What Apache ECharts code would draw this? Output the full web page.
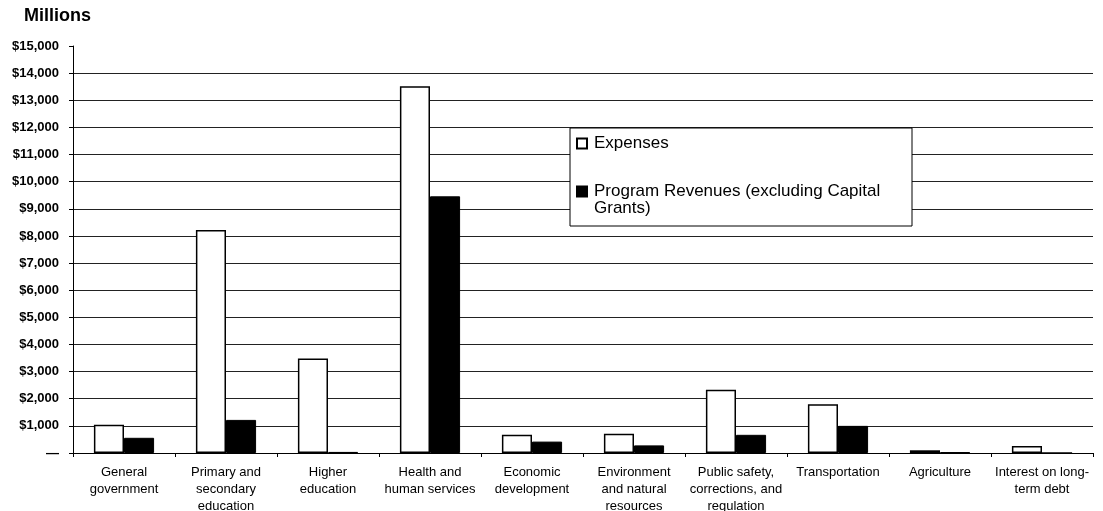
<!DOCTYPE html>
<html>
<head>
<meta charset="utf-8">
<script src="https://cdn.jsdelivr.net/npm/echarts@6/dist/echarts.min.js"></script>
<style>html,body{margin:0;padding:0;background:#fff}#c{width:1103px;height:511px}</style>
</head>
<body>
<div id="c"></div>
<script>
const categories = ["General\ngovernment","Primary and\nsecondary\neducation","Higher\neducation","Health and\nhuman services","Economic\ndevelopment","Environment\nand natural\nresources","Public safety,\ncorrections, and\nregulation","Transportation","Agriculture","Interest on long-\nterm debt"];
const expenses = [1040, 8220, 3480, 13520, 670, 710, 2330, 1800, 100, 260];
const programRevenues = [560, 1220, 40, 9460, 420, 280, 670, 1000, 30, 0];
const yTicks = {min: 0, max: 15000, interval: 1000};
const seriesNames = ['Expenses', 'Program Revenues (excluding Capital\nGrants)'];

const chart = echarts.init(document.getElementById('c'), null, {renderer: 'canvas'});
chart.setOption({
  animation: false,
  backgroundColor: '#fff',
  textStyle: {fontFamily: 'Arial, "Liberation Sans", sans-serif', color: '#000'},
  grid: {left: 73, right: 10, top: 46, bottom: 58, containLabel: false, outerBoundsMode: 'none'},
  graphic: [
    {type: 'text', left: 24, top: 7, style: {text: 'Millions', font: 'bold 18px Arial, "Liberation Sans", sans-serif', fill: '#000'}},
    {type: 'rect', shape: {x: 570, y: 128, width: 342, height: 98}, style: {fill: '#fff', stroke: '#000', lineWidth: 1}, z: 3}
  ],
  legend: {
    orient: 'vertical', left: 571, top: 130, z: 10, padding: 5,
    itemWidth: 10, itemHeight: 10, itemGap: 14,
    icon: 'rect',
    formatter: name => name === seriesNames[1] ? '\n' + name : name,
    textStyle: {fontSize: 17, color: '#000', lineHeight: 17, padding: [0, 0, 0, 2]},
    data: seriesNames
  },
  xAxis: {
    type: 'category', data: categories,
    axisLine: {lineStyle: {color: '#000', width: 1}},
    axisTick: {show: true, interval: 0, length: 4, lineStyle: {color: '#000'}},
    axisLabel: {interval: 0, fontSize: 13, lineHeight: 17, color: '#000', margin: 11}
  },
  yAxis: {
    type: 'value', min: yTicks.min, max: yTicks.max, interval: yTicks.interval,
    axisLine: {show: true, lineStyle: {color: '#000', width: 1}},
    axisTick: {show: true, length: 4, lineStyle: {color: '#000'}},
    splitLine: {show: true, showMaxLine: false, lineStyle: {color: '#222', width: 1}},
    axisLabel: {
      fontSize: 13, fontWeight: 'bold', color: '#000', margin: 14,
      formatter: v => v === 0 ? '—' : '$' + v.toLocaleString('en-US')
    }
  },
  series: [
    {name: seriesNames[0], type: 'bar', data: expenses, barGap: '0%', barCategoryGap: '41%',
     itemStyle: {color: '#fff', borderColor: '#000', borderWidth: 1.5}},
    {name: seriesNames[1], type: 'bar', data: programRevenues,
     itemStyle: {color: '#000', borderColor: '#000', borderWidth: 1}}
  ]
});
</script>
</body>
</html>
